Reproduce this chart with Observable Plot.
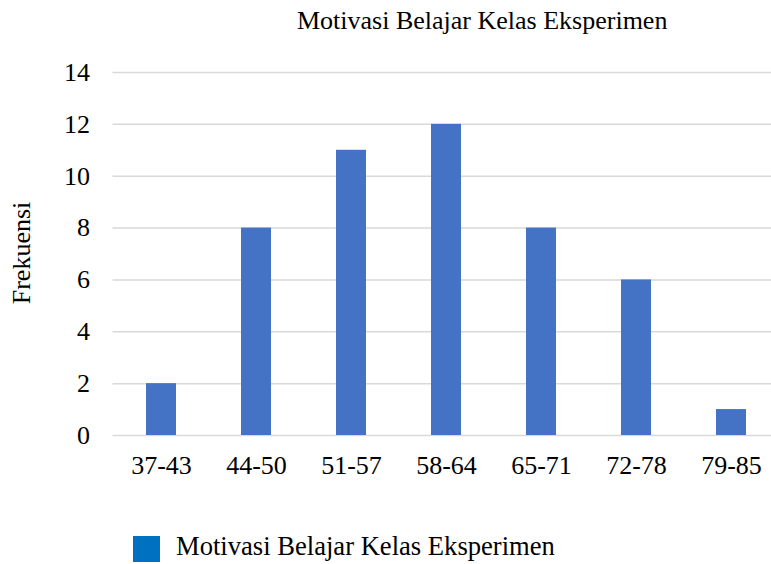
<!DOCTYPE html>
<html>
<head>
<meta charset="utf-8">
<script src="https://cdn.jsdelivr.net/npm/d3@7"></script>
<script src="https://cdn.jsdelivr.net/npm/@observablehq/plot@0.6"></script>
<style>
  html, body { margin: 0; padding: 0; background: #fff; }
  #wrap { position: relative; width: 771px; height: 564px; overflow: hidden; font-family: "Liberation Serif", "Times New Roman", serif; color: #000; background: #fff; }
  .abs { position: absolute; white-space: nowrap; font-size: 26px; line-height: 1; z-index: 2; }
  #chart { position: absolute; left: 0; top: 45px; z-index: 1; }
  #chart svg, #chart svg text, #chart svg g { font-family: "Liberation Serif", "Times New Roman", serif !important; font-variant: normal !important; font-variant-numeric: normal !important; }
</style>
</head>
<body>
<div id="wrap">
  <div class="abs" id="title" style="left:297px; top:8px;"></div>
  <div class="abs" id="ylabel" style="left:22px; top:253px; transform: translate(-50%,-50%) rotate(-90deg);"></div>
  <div id="chart"></div>
  <div class="abs" style="left:133px; top:536px; width:27px; height:26px; background:#0070C0;"></div>
  <div class="abs" id="legend" style="left:176px; top:533px; font-size:26.6px;"></div>
</div>
<script>
const title = "Motivasi Belajar Kelas Eksperimen";
const yLabel = "Frekuensi";
const categories = ["37-43", "44-50", "51-57", "58-64", "65-71", "72-78", "79-85"];
const values = [2, 8, 11, 12, 8, 6, 1];
const yTicks = [0, 2, 4, 6, 8, 10, 12, 14];

document.getElementById("title").textContent = title;
document.getElementById("ylabel").textContent = yLabel;
document.getElementById("legend").textContent = title;

const data = categories.map((c, i) => ({category: c, value: values[i]}));
const serif = '"Liberation Serif", "Times New Roman", serif';

const chart = Plot.plot({
  width: 771,
  height: 450,
  marginTop: 27,
  marginBottom: 60,
  marginLeft: 112.5,
  marginRight: 0,
  style: 'font-family: "Liberation Serif", "Times New Roman", serif; font-size: 26px; color: #000; background: transparent; overflow: visible;',
  x: {domain: categories, range: [112.5, 779], paddingInner: 0.685, paddingOuter: 0.3425, align: 0.5, label: null},
  y: {domain: [0, 14], label: null},
  marks: [
    Plot.ruleY(yTicks, {stroke: "#d9d9d9", strokeWidth: 1.5}),
    Plot.barY(data, {x: "category", y: "value", fill: "#4472C4"}),
    Plot.axisY({ticks: yTicks, tickSize: 0, tickPadding: 23, label: null, tickFormat: d => String(d), fontFamily: serif, fontSize: 26, fontVariant: "normal"}),
    Plot.axisX({tickSize: 0, tickPadding: 20, label: null, fontFamily: serif, fontSize: 26, fontVariant: "normal"})
  ]
});
document.getElementById("chart").appendChild(chart);
</script>
</body>
</html>
